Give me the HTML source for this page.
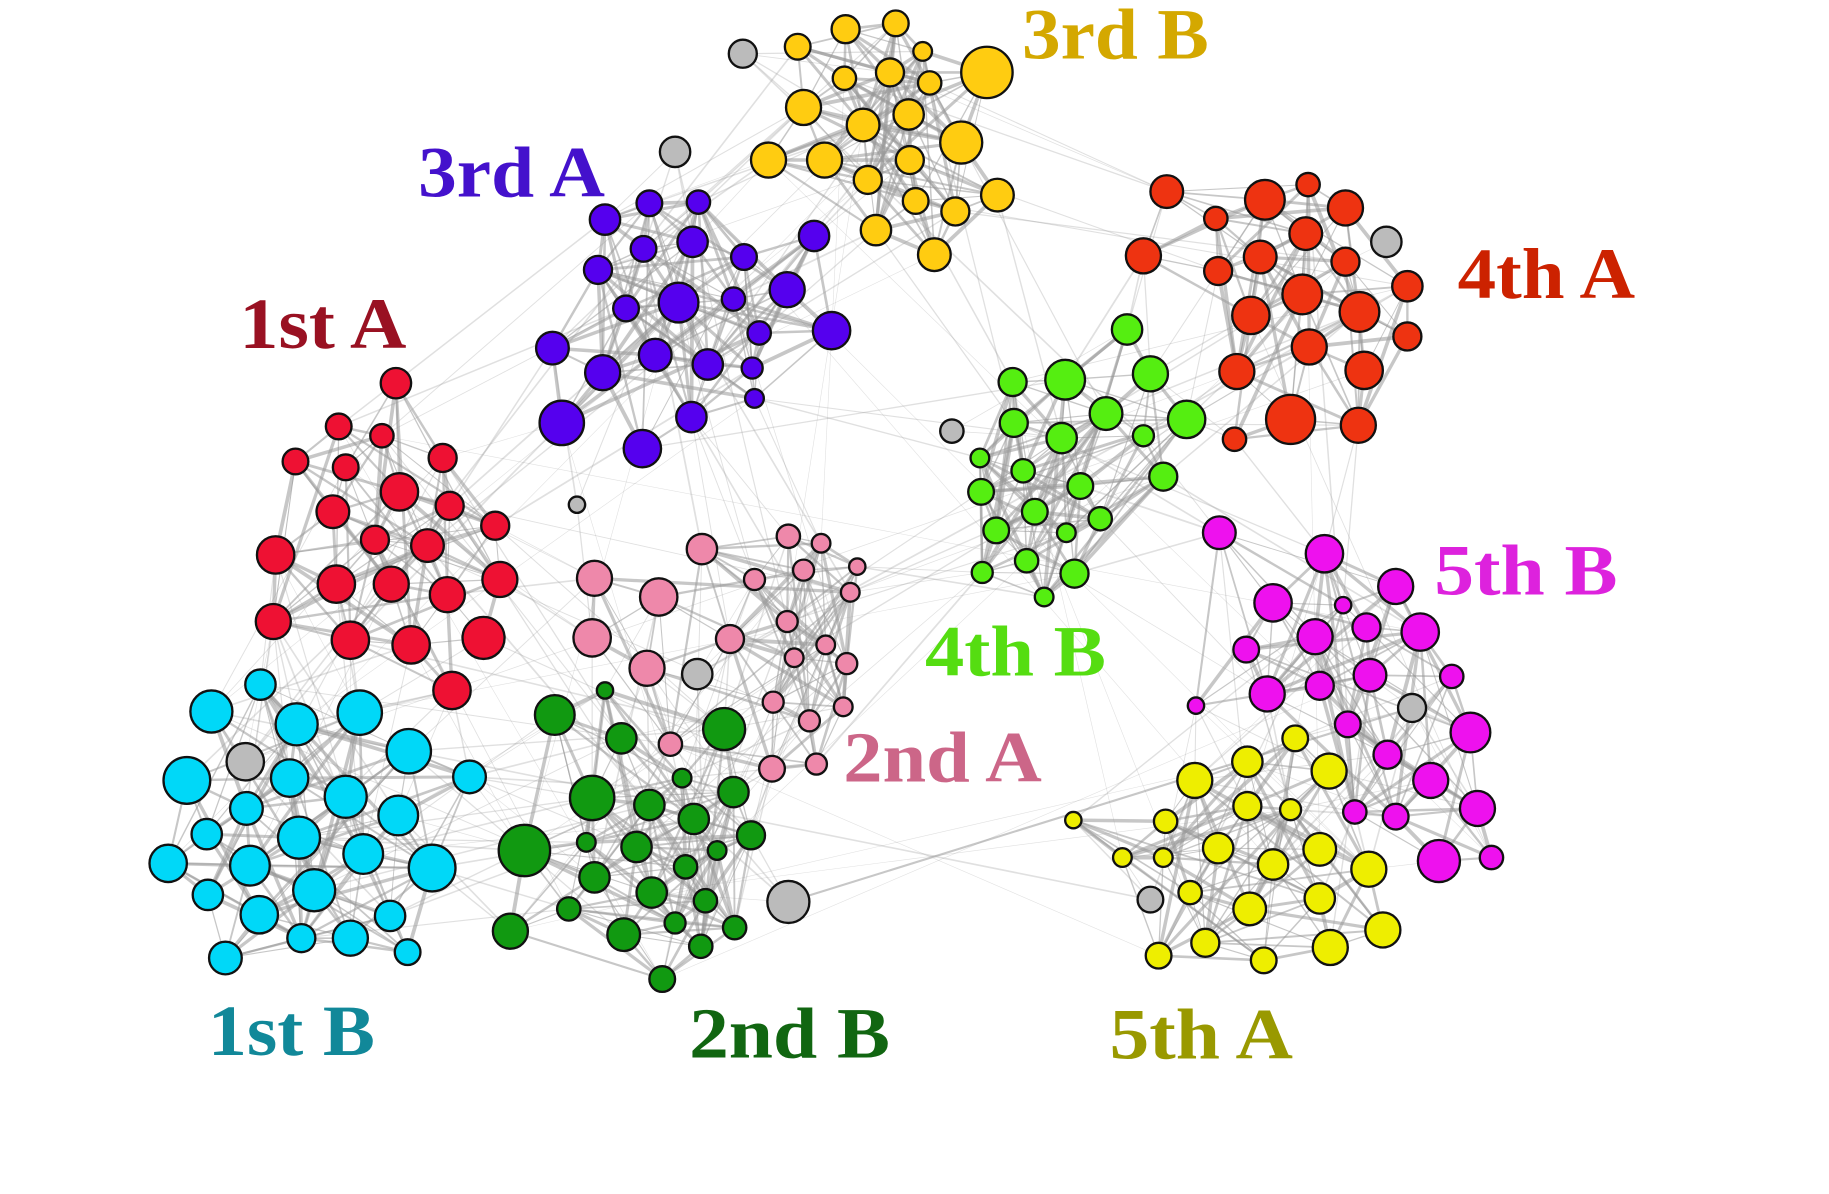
<!DOCTYPE html>
<html><head><meta charset="utf-8"><style>
html,body{margin:0;padding:0;background:#fff;overflow:hidden}
svg{display:block}
text{font-family:"Liberation Serif",serif;font-weight:bold;font-size:62px}
</style></head><body>
<svg id="s" width="1829" height="1194" viewBox="0 0 1566 1022" preserveAspectRatio="none" xmlns="http://www.w3.org/2000/svg">
<g id="edges"></g><g id="nodes"></g>
<text x="875" y="50" fill="#D4A800" textLength="160" lengthAdjust="spacingAndGlyphs">3rd B</text>
<text x="358" y="168" fill="#4411CC" textLength="160" lengthAdjust="spacingAndGlyphs">3rd A</text>
<text x="205" y="298" fill="#991122" textLength="143" lengthAdjust="spacingAndGlyphs">1st A</text>
<text x="1248" y="255" fill="#CC2200" textLength="152" lengthAdjust="spacingAndGlyphs">4th A</text>
<text x="1228" y="509" fill="#DD22DD" textLength="157" lengthAdjust="spacingAndGlyphs">5th B</text>
<text x="792" y="578" fill="#55DD11" textLength="155" lengthAdjust="spacingAndGlyphs">4th B</text>
<text x="722" y="669" fill="#CC6688" textLength="170" lengthAdjust="spacingAndGlyphs">2nd A</text>
<text x="178" y="903" fill="#118899" textLength="143" lengthAdjust="spacingAndGlyphs">1st B</text>
<text x="590" y="905" fill="#116611" textLength="172" lengthAdjust="spacingAndGlyphs">2nd B</text>
<text x="950" y="906" fill="#999900" textLength="157" lengthAdjust="spacingAndGlyphs">5th A</text>
</svg>
<script>
var C={
yb:["#FFCC11",[[683,40,11],[724,25,12],[767,20,11],[790,44,8],[845,62,22],[723,67,10],[762,62,12],[796,71,10],[688,92,15],[739,107,14],[778,98,13],[823,122,18],[658,137,15],[706,137,15],[743,154,12],[779,137,12],[854,167,14],[784,172,11],[818,181,12],[750,197,13],[800,218,14]]],
pa:["#5500EE",[[518,188,13],[556,174,11],[598,173,10],[551,213,11],[593,207,13],[637,220,11],[512,231,12],[581,259,17],[628,256,10],[674,248,15],[536,264,11],[712,283,16],[473,298,14],[516,319,15],[561,304,14],[606,312,13],[650,285,10],[644,315,9],[646,341,8],[481,362,19],[550,384,16],[592,357,13],[697,202,13]]],
ra:["#EE1133",[[339,328,13],[290,365,11],[327,373,10],[253,395,11],[296,400,11],[379,392,12],[342,421,16],[285,438,14],[385,433,12],[424,450,12],[321,462,12],[366,467,14],[236,475,16],[288,500,16],[335,500,15],[383,509,15],[428,496,15],[234,532,15],[300,548,16],[352,552,16],[414,546,18],[387,591,16]]],
cb:["#00D8F8",[[223,586,13],[181,609,18],[254,620,18],[308,610,19],[350,643,19],[402,665,14],[160,668,20],[248,666,16],[296,682,18],[211,692,14],[341,698,17],[177,714,13],[256,717,18],[311,731,17],[214,741,17],[144,739,16],[370,743,20],[178,766,13],[269,762,18],[222,783,16],[334,784,13],[258,803,12],[300,803,15],[349,815,11],[193,820,14]]],
gb:["#119911",[[475,612,17],[518,591,7],[532,632,13],[620,624,18],[584,666,8],[507,683,19],[556,689,13],[628,678,13],[594,701,13],[449,728,22],[502,721,8],[545,725,13],[614,728,8],[643,715,12],[509,751,13],[587,742,10],[558,764,13],[487,778,10],[604,771,10],[578,790,9],[437,797,15],[534,800,14],[629,794,10],[600,810,10],[567,838,11]]],
pk:["#EE88AA",[[601,470,13],[509,495,15],[564,511,16],[507,546,16],[554,572,15],[625,547,12],[675,459,10],[703,465,8],[734,485,7],[646,496,9],[688,488,9],[728,507,8],[674,532,9],[707,552,8],[680,563,8],[725,568,9],[662,601,9],[693,617,9],[722,605,8],[574,637,10],[661,658,11],[699,654,9]]],
lg:["#55EE11",[[965,282,13],[867,327,12],[912,325,17],[985,320,15],[868,362,12],[947,354,14],[909,375,13],[979,373,9],[1016,359,16],[839,392,8],[876,403,10],[925,416,11],[996,408,12],[840,421,11],[886,438,11],[853,454,11],[913,456,8],[942,444,10],[879,480,10],[920,491,12],[841,490,9],[894,511,8]]],
or:["#EE3311",[[999,164,14],[1041,187,10],[1083,171,17],[1120,158,10],[1152,178,15],[979,219,15],[1043,232,12],[1079,220,14],[1118,200,14],[1152,224,12],[1205,245,13],[1071,270,16],[1115,252,17],[1164,267,17],[1205,288,12],[1059,318,15],[1121,297,15],[1168,317,16],[1105,359,21],[1057,376,10],[1163,364,15]]],
mg:["#EE11EE",[[1044,456,14],[1134,474,16],[1195,502,15],[1090,516,16],[1150,518,7],[1126,545,15],[1170,537,12],[1216,541,16],[1067,556,11],[1130,587,12],[1173,578,14],[1243,579,10],[1085,594,15],[1024,604,7],[1154,620,11],[1259,627,17],[1188,646,12],[1225,668,15],[1160,695,10],[1195,699,11],[1265,692,15],[1232,737,18],[1277,734,10]]],
ye:["#EEEE00",[[1109,632,11],[1068,652,13],[1138,660,15],[1023,668,15],[1068,690,12],[1105,693,9],[919,702,7],[998,703,10],[1043,726,13],[1090,740,13],[1130,727,14],[1172,744,15],[961,734,8],[996,734,8],[1019,764,10],[1070,778,14],[1130,769,13],[1032,807,12],[1082,822,11],[1139,811,15],[1184,796,15],[992,818,11]]],
gr:["#BBBBBB",[[636,46,12],[578,130,13],[210,652,16],[675,772,18],[597,577,13],[494,432,7],[815,369,10],[1187,207,13],[1209,606,12],[985,770,11]]]
};
var adj={yb:["pa","or","lg"],pa:["yb","ra","pk","lg"],ra:["pa","cb","pk","gb"],cb:["ra","gb","pk"],gb:["cb","pk","ra"],pk:["gb","ra","pa","lg"],lg:["or","yb","mg","pk"],or:["lg","yb","mg"],mg:["ye","or","lg"],ye:["mg","lg"],gr:[]};
var seed=7;function rnd(){seed=(seed*16807)%2147483647;return seed/2147483647;}
var all=[];for(var k in C){C[k][1].forEach(function(n){all.push({x:n[0],y:n[1],r:n[2],c:C[k][0],k:k});});}
var E="",N="";
for(var i=0;i<all.length;i++)for(var j=i+1;j<all.length;j++){
 var a=all[i],b=all[j],d=Math.hypot(a.x-b.x,a.y-b.y),same=a.k==b.k,p,w;
 var near=adj[a.k].indexOf(b.k)>=0||a.k=="gr"||b.k=="gr";
 if(same){p=d<90?0.8:d<160?0.35:0.08;w=0.8+rnd()*2.5;}
 else if(near){p=d<140?0.2:d<300?0.03:0.004;w=0.5+rnd()*1;}
 else{p=0.001;w=0.5;}
 if(rnd()<p){var op=same?0.55:0.3;E+='<line x1="'+a.x+'" y1="'+a.y+'" x2="'+b.x+'" y2="'+b.y+'" stroke="#999" stroke-opacity="'+op+'" stroke-width="'+w.toFixed(1)+'"/>';}
}
all.forEach(function(n){N+='<circle cx="'+n.x+'" cy="'+n.y+'" r="'+n.r+'" fill="'+n.c+'" stroke="#111" stroke-width="2"/>';});
document.getElementById("edges").innerHTML=E;document.getElementById("nodes").innerHTML=N;
</script>
</body></html>
